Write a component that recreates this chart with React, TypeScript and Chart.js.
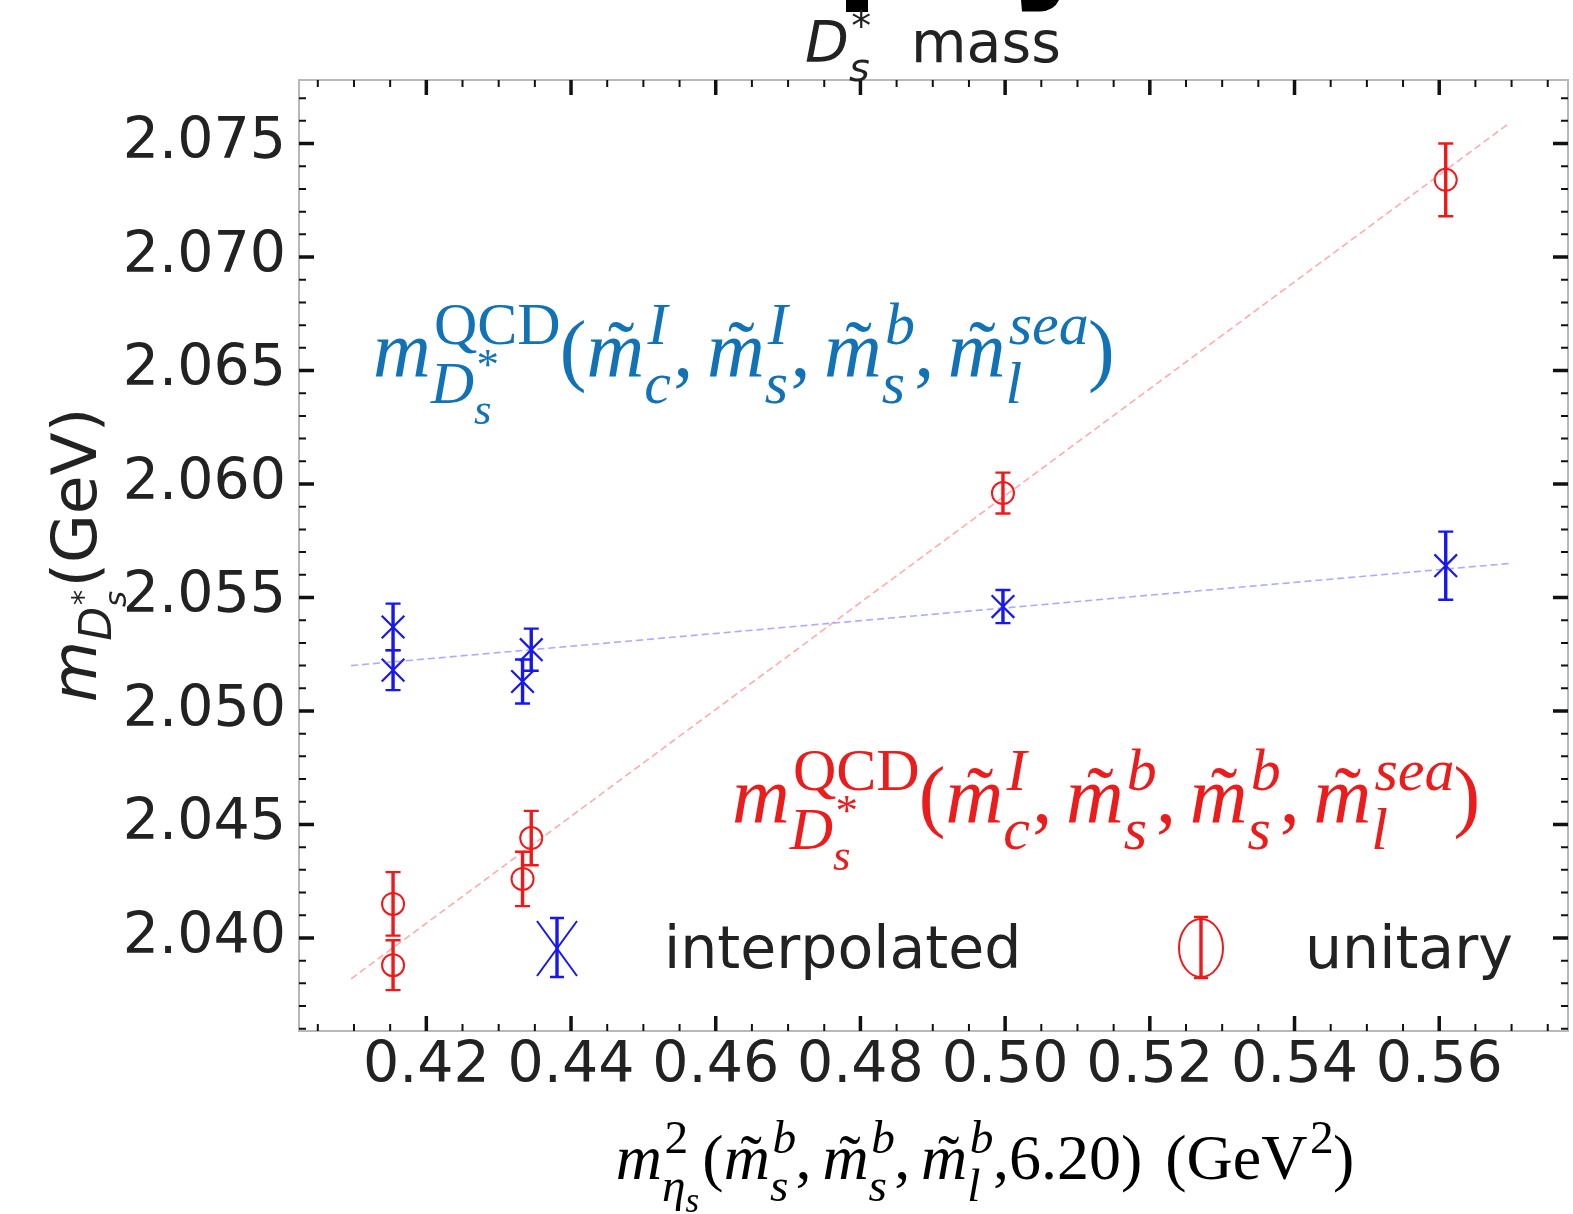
import React, { useEffect, useRef } from "react";
import { Chart, registerables } from "chart.js";

Chart.register(...registerables);

// ---- data ----
const interpX = [0.4154, 0.4154, 0.4345, 0.4333, 0.4997, 0.5609];
const interpY = [2.0537, 2.0518, 2.0527, 2.0513, 2.0546, 2.0564];
const interpErr = [0.00103, 0.00088, 0.00093, 0.00097, 0.00073, 0.0015];

const unitX = [0.4154, 0.4154, 0.4345, 0.4333, 0.4997, 0.5609];
const unitY = [2.0415, 2.0388, 2.0444, 2.0426, 2.0596, 2.0734];
const unitErr = [0.0014, 0.0011, 0.0012, 0.0012, 0.0009, 0.0016];

const interpFitX = [0.4096, 0.5697];
const interpFitY = [2.052, 2.0565];
const unitFitX = [0.4096, 0.5697];
const unitFitY = [2.0382, 2.0759];

const xTicks = [0.42, 0.44, 0.46, 0.48, 0.5, 0.52, 0.54, 0.56];
const yTicks = [2.04, 2.045, 2.05, 2.055, 2.06, 2.065, 2.07, 2.075];
const xRange = [0.4024, 0.5778];
const yRange = [2.0359, 2.0778];
const xMinorStep = 0.005;
const yMinorStep = 0.001;

const legendLabels = ["interpolated", "unitary"];

const BLUE = "#1717f0";
const RED = "#f01818";
const ANN_BLUE = "#1172b6";
const ANN_RED = "#eb1c1c";

// ---- tiny math-text layout ----
type N =
  | { t: string; it?: boolean; tilde?: boolean }
  | { g: number }
  | { sup?: N[]; sub?: N[] };

function mathW(
  ctx: CanvasRenderingContext2D,
  nodes: N[],
  size: number,
  fam: string,
  x: number,
  y: number,
  draw: boolean,
  sk: number
): number {
  let w = 0;
  for (const n of nodes) {
    if ("t" in n) {
      ctx.font = `${n.it ? "italic " : ""}${size}px ${fam}`;
      const tw = ctx.measureText(n.t).width;
      if (draw) {
        ctx.fillText(n.t, x + w, y);
        if (n.tilde) {
          ctx.font = `${size}px ${fam}`;
          const tt = ctx.measureText("\u02DC").width;
          ctx.fillText("\u02DC", x + w + tw / 2 - tt / 2 + size * 0.07, y);
        }
      }
      w += tw;
    } else if ("g" in n) {
      w += n.g * size;
    } else {
      const s2 = size * sk;
      const both = !!(n.sup && n.sub);
      const supW = n.sup ? mathW(ctx, n.sup, s2, fam, x + w + size * 0.04, y - size * 0.4, draw, sk) : 0;
      const subW = n.sub
        ? mathW(ctx, n.sub, s2, fam, x + w, y + size * (both ? 0.34 : 0.24), draw, sk)
        : 0;
      w += Math.max(supW, subW) + size * 0.03;
    }
  }
  return w;
}

function drawMath(
  ctx: CanvasRenderingContext2D,
  nodes: N[],
  size: number,
  fam: string,
  x: number,
  y: number,
  color: string,
  align: "left" | "center" = "left",
  sk = 0.7
) {
  ctx.save();
  ctx.fillStyle = color;
  ctx.textAlign = "left";
  ctx.textBaseline = "alphabetic";
  const w = mathW(ctx, nodes, size, fam, 0, 0, false, sk);
  const x0 = align === "center" ? x - w / 2 : x;
  mathW(ctx, nodes, size, fam, x0, y, true, sk);
  ctx.restore();
  return w;
}

const mt = (sup: string, sub: string): N[] => [
  { t: "m", it: true, tilde: true },
  { sup: [{ t: sup, it: true }], sub: [{ t: sub, it: true }] },
];

const annBlue: N[] = [
  { t: "m", it: true },
  { sup: [{ t: "QCD" }], sub: [{ t: "D", it: true }, { sup: [{ t: "*" }], sub: [{ t: "s", it: true }] }] },
  { t: "(" },
  ...mt("I", "c"),
  { t: "," },
  { g: 0.17 },
  ...mt("I", "s"),
  { t: "," },
  { g: 0.17 },
  ...mt("b", "s"),
  { t: "," },
  { g: 0.17 },
  ...mt("sea", "l"),
  { t: ")" },
];

const annRed: N[] = [
  { t: "m", it: true },
  { sup: [{ t: "QCD" }], sub: [{ t: "D", it: true }, { sup: [{ t: "*" }], sub: [{ t: "s", it: true }] }] },
  { t: "(" },
  ...mt("I", "c"),
  { t: "," },
  { g: 0.17 },
  ...mt("b", "s"),
  { t: "," },
  { g: 0.17 },
  ...mt("b", "s"),
  { t: "," },
  { g: 0.17 },
  ...mt("sea", "l"),
  { t: ")" },
];

const xLabel: N[] = [
  { t: "m", it: true },
  { sup: [{ t: "2" }], sub: [{ t: "\u03B7", it: true }, { sub: [{ t: "s", it: true }] }] },
  { t: "(" },
  ...mt("b", "s"),
  { t: "," },
  { g: 0.17 },
  ...mt("b", "s"),
  { t: "," },
  { g: 0.17 },
  ...mt("b", "l"),
  { t: ",6.20)" },
  { g: 0.36 },
  { t: "(GeV" },
  { sup: [{ t: "2" }] },
  { t: ")" },
];

const yLabel: N[] = [
  { t: "m", it: true },
  { sub: [{ t: "D", it: true }, { sup: [{ t: "*" }], sub: [{ t: "s", it: true }] }] },
  { t: "(GeV)" },
];

const titleNodes: N[] = [
  { t: "D", it: true },
  { sup: [{ t: "*" }], sub: [{ t: "s", it: true }] },
];

function errBars(chart: any, dsIndex: number, errs: number[], color: string) {
  const ctx = chart.ctx as CanvasRenderingContext2D;
  const xs = chart.scales.x;
  const ys = chart.scales.y;
  const ds = chart.data.datasets[dsIndex];
  ctx.save();
  ctx.strokeStyle = color;
  (ds.data as any[]).forEach((p, i) => {
    const px = xs.getPixelForValue(p.x);
    const y1 = ys.getPixelForValue(p.y + errs[i]);
    const y2 = ys.getPixelForValue(p.y - errs[i]);
    ctx.lineWidth = 3.4;
    ctx.beginPath();
    ctx.moveTo(px, y1);
    ctx.lineTo(px, y2);
    ctx.stroke();
    ctx.lineWidth = 2.4;
    ctx.beginPath();
    ctx.moveTo(px - 7.5, y1);
    ctx.lineTo(px + 7.5, y1);
    ctx.moveTo(px - 7.5, y2);
    ctx.lineTo(px + 7.5, y2);
    ctx.stroke();
  });
  ctx.restore();
}

const decoPlugin = {
  id: "deco",
  beforeDraw(chart: any) {
    const c = chart.ctx as CanvasRenderingContext2D;
    c.save();
    c.fillStyle = "#ffffff";
    c.fillRect(0, 0, chart.width, chart.height);
    c.restore();
  },
  afterDatasetsDraw(chart: any) {
    errBars(chart, 2, interpErr, BLUE);
    errBars(chart, 3, unitErr, RED);
  },
  afterDraw(chart: any) {
    const ctx = chart.ctx as CanvasRenderingContext2D;
    const a = chart.chartArea;
    const xs = chart.scales.x;
    const ys = chart.scales.y;

    // frame
    ctx.save();
    ctx.strokeStyle = "#b8b8b8";
    ctx.lineWidth = 2;
    ctx.strokeRect(a.left, a.top, a.right - a.left, a.bottom - a.top);

    // ticks (inward, all four sides)
    ctx.strokeStyle = "#111";
    const tickX = (v: number, len: number, lw: number) => {
      const px = xs.getPixelForValue(v);
      ctx.lineWidth = lw;
      ctx.beginPath();
      ctx.moveTo(px, a.bottom);
      ctx.lineTo(px, a.bottom - len);
      ctx.moveTo(px, a.top);
      ctx.lineTo(px, a.top + len);
      ctx.stroke();
    };
    const tickY = (v: number, len: number, lw: number) => {
      const py = ys.getPixelForValue(v);
      ctx.lineWidth = lw;
      ctx.beginPath();
      ctx.moveTo(a.left, py);
      ctx.lineTo(a.left + len, py);
      ctx.moveTo(a.right, py);
      ctx.lineTo(a.right - len, py);
      ctx.stroke();
    };
    const xMinStart = Math.ceil(xRange[0] / xMinorStep - 1e-9);
    const xMinEnd = Math.floor(xRange[1] / xMinorStep + 1e-9);
    for (let k = xMinStart; k <= xMinEnd; k++) {
      const v = k * xMinorStep;
      if (xTicks.some((t) => Math.abs(t - v) < 1e-7)) continue;
      tickX(v, 7, 2);
    }
    xTicks.forEach((v) => tickX(v, 15, 3.5));
    const yMinStart = Math.ceil(yRange[0] / yMinorStep - 1e-9);
    const yMinEnd = Math.floor(yRange[1] / yMinorStep + 1e-9);
    for (let k = yMinStart; k <= yMinEnd; k++) {
      const v = k * yMinorStep;
      if (yTicks.some((t) => Math.abs(t - v) < 1e-7)) continue;
      tickY(v, 7, 2);
    }
    yTicks.forEach((v) => tickY(v, 15, 3.5));
    ctx.restore();

    // cut-off heading fragments at very top
    ctx.save();
    ctx.fillStyle = "#000";
    ctx.fillRect(846, 0, 22, 12);
    ctx.beginPath();
    ctx.moveTo(1021, 0);
    ctx.lineTo(1059, 0);
    ctx.quadraticCurveTo(1054, 11, 1040, 11.5);
    ctx.lineTo(1022, 11.5);
    ctx.closePath();
    ctx.fill();
    ctx.restore();

    // title
    drawMath(ctx, titleNodes, 57, "'DejaVu Sans'", 805, 62, "#222");
    ctx.save();
    ctx.fillStyle = "#222";
    ctx.font = "57px 'DejaVu Sans'";
    ctx.fillText("mass", 911, 62);
    ctx.restore();

    // y-axis label (rotated)
    ctx.save();
    ctx.translate(96, 555);
    ctx.rotate(-Math.PI / 2);
    drawMath(ctx, yLabel, 63, "'DejaVu Sans'", 0, 0, "#222", "center");
    ctx.restore();

    // x-axis label
    drawMath(ctx, xLabel, 64, "'Liberation Serif'", 985, 1179, "#000", "center", 0.74);

    // annotations
    drawMath(ctx, annBlue, 80, "'Liberation Serif'", 373, 376, ANN_BLUE, "left", 0.75);
    drawMath(ctx, annRed, 80, "'Liberation Serif'", 732, 822, ANN_RED, "left", 0.75);

    // legend
    ctx.save();
    ctx.strokeStyle = BLUE;
    ctx.lineWidth = 2;
    ctx.beginPath();
    ctx.moveTo(537, 921);
    ctx.lineTo(577, 976);
    ctx.moveTo(577, 921);
    ctx.lineTo(537, 976);
    ctx.stroke();
    ctx.lineWidth = 3.4;
    ctx.beginPath();
    ctx.moveTo(557, 918);
    ctx.lineTo(557, 977);
    ctx.stroke();
    ctx.lineWidth = 2.4;
    ctx.beginPath();
    ctx.moveTo(550, 918);
    ctx.lineTo(564, 918);
    ctx.moveTo(550, 977);
    ctx.lineTo(564, 977);
    ctx.stroke();
    ctx.strokeStyle = RED;
    ctx.lineWidth = 2;
    ctx.beginPath();
    ctx.ellipse(1201, 948, 22, 29, 0, 0, Math.PI * 2);
    ctx.stroke();
    ctx.lineWidth = 3.4;
    ctx.beginPath();
    ctx.moveTo(1201, 917);
    ctx.lineTo(1201, 978);
    ctx.stroke();
    ctx.lineWidth = 2.4;
    ctx.beginPath();
    ctx.moveTo(1194, 917);
    ctx.lineTo(1208, 917);
    ctx.moveTo(1194, 978);
    ctx.lineTo(1208, 978);
    ctx.stroke();
    ctx.fillStyle = "#222";
    ctx.font = "58.5px 'DejaVu Sans'";
    ctx.textBaseline = "alphabetic";
    ctx.fillText(legendLabels[0], 664, 968);
    ctx.fillText(legendLabels[1], 1305, 968);
    ctx.restore();
  },
};

const zeroPad = (s: any) => {
  s.paddingLeft = 0;
  s.paddingRight = 0;
  s.paddingTop = 0;
  s.paddingBottom = 0;
};

export default function App() {
  const ref = useRef<HTMLCanvasElement | null>(null);
  useEffect(() => {
    const canvas = ref.current;
    if (!canvas) return;
    const chart = new Chart(canvas, {
      type: "scatter",
      data: {
        datasets: [
          {
            label: "interpolated fit",
            type: "line",
            data: interpFitX.map((x, i) => ({ x, y: interpFitY[i] })),
            borderColor: "rgba(90,90,255,0.5)",
            borderWidth: 1.6,
            borderDash: [7, 4],
            pointRadius: 0,
            fill: false,
          },
          {
            label: "unitary fit",
            type: "line",
            data: unitFitX.map((x, i) => ({ x, y: unitFitY[i] })),
            borderColor: "rgba(255,90,90,0.5)",
            borderWidth: 1.6,
            borderDash: [7, 4],
            pointRadius: 0,
            fill: false,
          },
          {
            label: legendLabels[0],
            data: interpX.map((x, i) => ({ x, y: interpY[i] })),
            pointStyle: "crossRot",
            pointRadius: 16,
            borderColor: BLUE,
            backgroundColor: BLUE,
            borderWidth: 2.2,
          },
          {
            label: legendLabels[1],
            data: unitX.map((x, i) => ({ x, y: unitY[i] })),
            pointStyle: "circle",
            pointRadius: 11,
            borderColor: RED,
            backgroundColor: "rgba(0,0,0,0)",
            borderWidth: 2,
          },
        ],
      } as any,
      options: {
        animation: false,
        responsive: false,
        devicePixelRatio: 1,
        layout: { autoPadding: false, padding: { left: 0, right: 5, top: 80, bottom: 0 } },
        plugins: { legend: { display: false }, tooltip: { enabled: false } },
        scales: {
          x: {
            type: "linear",
            min: xRange[0],
            max: xRange[1],
            afterBuildTicks: (s: any) => {
              s.ticks = xTicks.map((v) => ({ value: v }));
            },
            afterFit: (s: any) => {
              s.height = 183;
              zeroPad(s);
            },
            grid: { display: false, drawTicks: false },
            border: { display: false },
            ticks: {
              font: { family: "'DejaVu Sans'", size: 57, lineHeight: 1.0 },
              color: "#222",
              padding: 8,
              maxRotation: 0,
              autoSkip: false,
              callback: (v: any) => Number(v).toFixed(2),
            },
          },
          y: {
            type: "linear",
            min: yRange[0],
            max: yRange[1],
            afterBuildTicks: (s: any) => {
              s.ticks = yTicks.map((v) => ({ value: v }));
            },
            afterFit: (s: any) => {
              s.width = 299;
              zeroPad(s);
            },
            grid: { display: false, drawTicks: false },
            border: { display: false },
            ticks: {
              font: { family: "'DejaVu Sans'", size: 57, lineHeight: 1.0 },
              color: "#222",
              padding: 13,
              autoSkip: false,
              callback: (v: any) => Number(v).toFixed(3),
            },
          },
        },
      } as any,
      plugins: [decoPlugin],
    });
    return () => chart.destroy();
  }, []);
  return (
    <canvas
      ref={ref}
      width={1573}
      height={1214}
      style={{ position: "absolute", left: 0, top: 0, display: "block", width: 1573, height: 1214 }}
    />
  );
}
